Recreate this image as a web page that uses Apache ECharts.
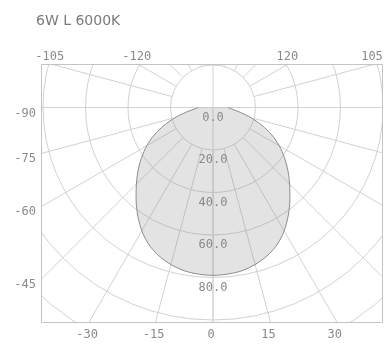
<!DOCTYPE html>
<html><head><meta charset="utf-8">
<script src="https://cdn.jsdelivr.net/npm/echarts@6/dist/echarts.min.js"></script>
<style>html,body{margin:0;padding:0;background:#fff}#c{width:388px;height:347px}</style>
</head><body><div id="c"></div>
<script>
// ---- data ----
const chartTitle = '6W L 6000K';
const angles = [-90,-85,-80,-75,-70,-65,-60,-55,-50,-45,-40,-35,-30,-25,-20,-15,-10,-5,0,5,10,15,20,25,30,35,40,45,50,55,60,65,70,75,80,85,90];
const intensity = [7,9,13,18.5,24.5,30.5,36,41,46,51,56.3,61.8,67,71.3,74.3,76.5,78,78.7,79,78.7,78,76.5,74.3,71.3,67,61.8,56.3,51,46,41,36,30.5,24.5,18.5,13,9,7];
const radiusLabelMax = 80;
const radiusMax = 140;
const radiusStep = 20;
const angleStep = 15;
const angleTickLabels = [-105,-120,120,105,-90,-75,-60,-45,-30,-15,0,15,30];

// ---- layout ----
const C = [213, 107.5];
const pxPerUnit = 2.125;
const F = {l:42, t:64, r:383, b:322};
const outerR = radiusMax * pxPerUnit;
const innerR = radiusStep * pxPerUnit;
const gridColor = '#d2d2d2';
const textColor = '#8a8a8a';
const mono = '"DejaVu Sans Mono", monospace';

function rayHit(theta){
  const s = Math.sin(theta*Math.PI/180), c = Math.cos(theta*Math.PI/180);
  let best = Infinity, edge = null, t;
  if (s < -1e-9){ t=(F.l-C[0])/s; if(t<best){best=t;edge='left';} }
  if (s > 1e-9){ t=(F.r-C[0])/s; if(t<best){best=t;edge='right';} }
  if (c > 1e-9){ t=(F.b-C[1])/c; if(t<best){best=t;edge='bottom';} }
  if (c < -1e-9){ t=(F.t-C[1])/c; if(t<best){best=t;edge='top';} }
  return {x:C[0]+s*best, y:C[1]+c*best, edge};
}

const graphics = [
  {type:'rect', z:100, silent:true, shape:{x:0,y:0,width:388,height:F.t}, style:{fill:'#fff'}},
  {type:'rect', z:100, silent:true, shape:{x:0,y:F.b,width:388,height:347-F.b}, style:{fill:'#fff'}},
  {type:'rect', z:100, silent:true, shape:{x:0,y:0,width:F.l,height:347}, style:{fill:'#fff'}},
  {type:'rect', z:100, silent:true, shape:{x:F.r,y:0,width:388-F.r,height:347}, style:{fill:'#fff'}},
  {type:'rect', z:101, silent:true, shape:{x:F.l-0.5,y:F.t+0.5,width:F.r-F.l,height:F.b-F.t}, style:{fill:null, stroke:'#c4c4c4', lineWidth:1}},
  {type:'text', z:102, x:36, y:21, style:{text:chartTitle, fill:'#7a7a7a', font:'14px "DejaVu Sans"', align:'left', verticalAlign:'middle'}}
];
angleTickLabels.forEach(a => {
  const h = rayHit(a);
  let x, y, align = 'center';
  if (h.edge === 'left'){ x = F.l - 6; y = h.y + 6; align = 'right'; }
  else if (h.edge === 'right'){ x = F.r + 4; y = h.y + 6; align = 'left'; }
  else if (h.edge === 'bottom'){ x = h.x - 2; y = F.b + 13; }
  else { x = Math.min(h.x - 1, F.r - 11); y = F.t - 7; }
  graphics.push({type:'text', z:102, x, y, style:{text:String(a), fill:textColor, font:'12px ' + mono, align, verticalAlign:'middle'}});
});

const toAxisAngle = a => a < 0 ? a + 360 : a;

const chart = echarts.init(document.getElementById('c'));
chart.setOption({
  animation:false,
  backgroundColor:'#fff',
  polar:[
    {center:C, radius:[0, outerR]},
    {center:C, radius:[innerR, outerR]}
  ],
  angleAxis:[
    {polarIndex:0, type:'value', min:0, max:360, interval:90, startAngle:270, clockwise:false,
     axisLine:{show:false}, axisTick:{show:false}, axisLabel:{show:false},
     splitLine:{show:true, lineStyle:{color:gridColor, width:1}}},
    {polarIndex:1, type:'value', min:0, max:360, interval:angleStep, startAngle:270, clockwise:false,
     axisLine:{show:false}, axisTick:{show:false}, axisLabel:{show:false},
     splitLine:{show:true, lineStyle:{color:gridColor, width:1}}}
  ],
  radiusAxis:[
    {polarIndex:0, type:'value', min:0, max:radiusMax, interval:radiusStep,
     axisLine:{show:false}, axisTick:{show:false},
     splitLine:{show:true, lineStyle:{color:gridColor, width:1}},
     axisLabel:{show:true, showMinLabel:true, margin:0, align:'center', verticalAlign:'top', padding:[4,0,0,0],
       color:textColor, fontFamily:mono, fontSize:12,
       formatter: v => v <= radiusLabelMax ? v.toFixed(1) : ''}},
    {polarIndex:1, type:'value', min:0, max:radiusMax, show:false}
  ],
  series:[{
    type:'line', coordinateSystem:'polar', polarIndex:0, symbol:'none', smooth:0.3, z:3,
    data: angles.map((a,i) => [intensity[i], toAxisAngle(a)]),
    lineStyle:{color:'#8c8c8c', width:1},
    areaStyle:{color:'rgba(140,140,140,0.34)'}
  }],
  graphic: graphics
});
</script>
</body></html>
